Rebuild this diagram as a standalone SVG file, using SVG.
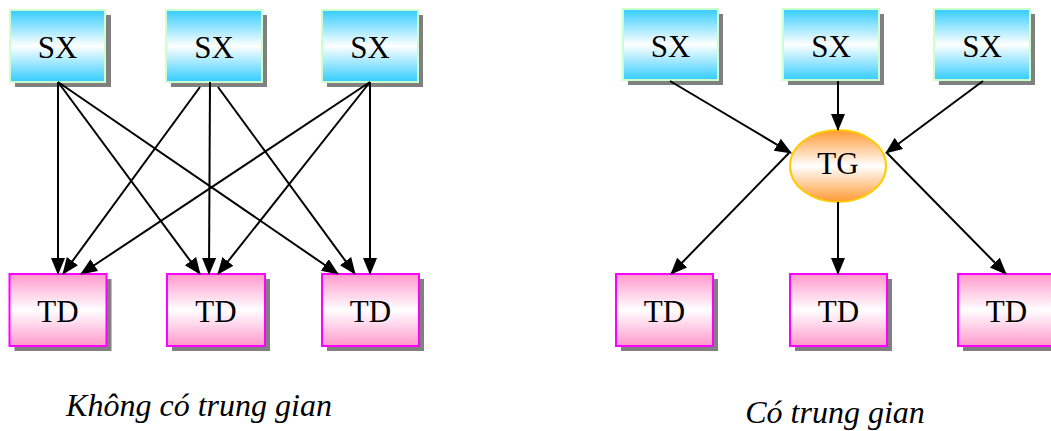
<svg xmlns="http://www.w3.org/2000/svg" width="1051" height="431" viewBox="0 0 1051 431">
  <defs>
    <linearGradient id="gSX" x1="0" y1="0" x2="0" y2="1">
      <stop offset="0" stop-color="#33ccff"/>
      <stop offset="0.5" stop-color="#ffffff"/>
      <stop offset="1" stop-color="#33ccff"/>
    </linearGradient>
    <linearGradient id="gTD" x1="0" y1="0" x2="0" y2="1">
      <stop offset="0" stop-color="#ff99cc"/>
      <stop offset="0.5" stop-color="#ffffff"/>
      <stop offset="1" stop-color="#ff99cc"/>
    </linearGradient>
    <linearGradient id="gTG" x1="0" y1="0" x2="0" y2="1">
      <stop offset="0" stop-color="#ff9933"/>
      <stop offset="0.5" stop-color="#ffffff"/>
      <stop offset="1" stop-color="#ff9933"/>
    </linearGradient>
    <marker id="arrow" markerUnits="userSpaceOnUse" markerWidth="18" markerHeight="15" refX="16" refY="7" orient="auto">
      <path d="M0,0 L17,7 L0,14 z" fill="#000"/>
    </marker>
  </defs>
  <style>
    .shadow { fill: #808080; }
    .sx { fill: url(#gSX); stroke: #ccffcc; stroke-width: 2; }
    .td { fill: url(#gTD); stroke: #ff00ff; stroke-width: 2; }
    .tg { fill: url(#gTG); stroke: #ffcc00; stroke-width: 2; }
    text { font-family: 'Liberation Serif', 'Times New Roman', serif; fill: #000; text-anchor: middle; }
    .lbl { font-size: 31px; }
    .cap { font-size: 32px; font-style: italic; }
    .edge { stroke: #000; stroke-width: 2; fill: none; marker-end: url(#arrow); }
  </style>

  <!-- left: producers -->
  <g id="sx-l1"><rect class="shadow" x="15" y="15" width="96" height="72"/><rect class="sx" x="10" y="10" width="95" height="72"/><text class="lbl" x="57.5" y="58">SX</text></g>
  <g id="sx-l2"><rect class="shadow" x="171" y="15" width="96" height="72"/><rect class="sx" x="166" y="10" width="96" height="72"/><text class="lbl" x="214" y="58">SX</text></g>
  <g id="sx-l3"><rect class="shadow" x="327" y="15" width="96" height="72"/><rect class="sx" x="322" y="10" width="96" height="72"/><text class="lbl" x="370" y="58">SX</text></g>

  <!-- left: consumers -->
  <g id="td-l1"><rect class="shadow" x="14.5" y="279" width="97" height="72"/><rect class="td" x="9.5" y="274" width="97" height="72"/><text class="lbl" x="58" y="322">TD</text></g>
  <g id="td-l2"><rect class="shadow" x="172" y="279" width="98" height="72"/><rect class="td" x="167" y="274" width="98" height="72"/><text class="lbl" x="216" y="322">TD</text></g>
  <g id="td-l3"><rect class="shadow" x="327" y="279" width="97" height="72"/><rect class="td" x="322" y="274" width="97" height="72"/><text class="lbl" x="370.5" y="322">TD</text></g>

  <!-- right: producers -->
  <g id="sx-r1"><rect class="shadow" x="628" y="14" width="95" height="71"/><rect class="sx" x="623" y="9" width="95" height="71"/><text class="lbl" x="670.5" y="57">SX</text></g>
  <g id="sx-r2"><rect class="shadow" x="788" y="14" width="96" height="71"/><rect class="sx" x="783" y="9" width="96" height="71"/><text class="lbl" x="831" y="57">SX</text></g>
  <g id="sx-r3"><rect class="shadow" x="939" y="14" width="96" height="71"/><rect class="sx" x="934" y="9" width="96" height="71"/><text class="lbl" x="982" y="57">SX</text></g>

  <!-- right: intermediary -->
  <g id="tg"><ellipse class="tg" cx="838" cy="166" rx="48" ry="36"/><text class="lbl" x="838" y="174">TG</text></g>

  <!-- right: consumers -->
  <g id="td-r1"><rect class="shadow" x="621" y="279" width="97" height="72"/><rect class="td" x="616" y="274" width="97" height="72"/><text class="lbl" x="664.5" y="322">TD</text></g>
  <g id="td-r2"><rect class="shadow" x="795" y="279" width="97" height="72"/><rect class="td" x="790" y="274" width="97" height="72"/><text class="lbl" x="838.5" y="322">TD</text></g>
  <g id="td-r3"><rect class="shadow" x="963" y="279" width="97" height="72"/><rect class="td" x="958" y="274" width="97" height="72"/><text class="lbl" x="1006.5" y="322">TD</text></g>

  <!-- connectors, drawn over the node shadows -->
  <g id="connectors">
    <!-- direct links -->
    <line class="edge" x1="58" y1="82" x2="58" y2="274"/>
    <line class="edge" x1="58" y1="82" x2="200" y2="274"/>
    <line class="edge" x1="58" y1="82" x2="338" y2="274"/>
    <line class="edge" x1="200" y1="87" x2="63" y2="274"/>
    <line class="edge" x1="210" y1="82" x2="209" y2="274"/>
    <line class="edge" x1="218" y1="87" x2="355" y2="274"/>
    <line class="edge" x1="370" y1="82" x2="81" y2="274"/>
    <line class="edge" x1="370" y1="82" x2="218" y2="274"/>
    <line class="edge" x1="370" y1="82" x2="370" y2="274"/>
    <!-- links through the intermediary -->
    <line class="edge" x1="670" y1="81" x2="791" y2="153"/>
    <line class="edge" x1="838" y1="81" x2="838" y2="130"/>
    <line class="edge" x1="983" y1="81" x2="886" y2="153"/>
    <line class="edge" x1="789" y1="153" x2="671" y2="274"/>
    <line class="edge" x1="838" y1="202" x2="838" y2="274"/>
    <line class="edge" x1="887" y1="153" x2="1006" y2="274"/>
  </g>

  <!-- captions -->
  <text class="cap" x="199" y="416">Không có trung gian</text>
  <text class="cap" x="835" y="423">Có trung gian</text>
</svg>
